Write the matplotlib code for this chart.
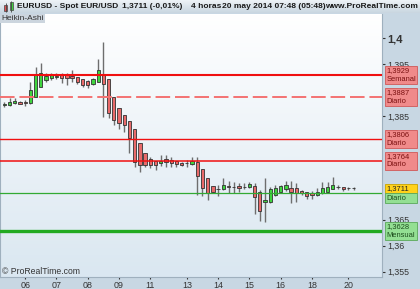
import matplotlib
matplotlib.use('Agg')
import matplotlib.pyplot as plt
import numpy as np
from matplotlib.patches import Rectangle
from matplotlib.colors import LinearSegmentedColormap
from matplotlib.transforms import blended_transform_factory

plt.rcParams['font.family'] = ['Liberation Sans', 'DejaVu Sans']

# Heikin-Ashi candles, 4h EUR/USD
opens = [1.3872, 1.3871, 1.3876, 1.3878, 1.3878, 1.3875, 1.3887, 1.3907, 1.3920, 1.3923,
         1.3926, 1.3929, 1.3929, 1.3928, 1.3925, 1.3921, 1.3918, 1.3912, 1.3916, 1.3929,
         1.3921, 1.3887, 1.3866, 1.3852, 1.3841, 1.3825, 1.3799, 1.3778, 1.3767, 1.3763,
         1.3759, 1.3767, 1.3765, 1.3763, 1.3760, 1.3759, 1.3758, 1.3762, 1.3747, 1.3730,
         1.3716, 1.3709, 1.3709, 1.3715, 1.3714, 1.3715, 1.3714, 1.3713, 1.3715, 1.3704,
         1.3685, 1.3685, 1.3698, 1.3704, 1.3709, 1.3712, 1.3711, 1.3706, 1.3703, 1.3701,
         1.3698, 1.3701, 1.3704, 1.3709, 1.3714, 1.3713, 1.3711, 1.3711]
highs = [1.3878, 1.3884, 1.3884, 1.3879, 1.3881, 1.3916, 1.3944, 1.3952, 1.3934, 1.3934,
         1.3934, 1.3933, 1.3933, 1.3939, 1.3926, 1.3922, 1.3920, 1.3924, 1.3960, 1.3993,
         1.3921, 1.3887, 1.3866, 1.3852, 1.3841, 1.3825, 1.3799, 1.3778, 1.3772, 1.3764,
         1.3774, 1.3775, 1.3772, 1.3764, 1.3761, 1.3765, 1.3772, 1.3772, 1.3747, 1.3730,
         1.3716, 1.3718, 1.3730, 1.3725, 1.3722, 1.3720, 1.3720, 1.3722, 1.3720, 1.3707,
         1.3731, 1.3714, 1.3717, 1.3718, 1.3725, 1.3725, 1.3720, 1.3707, 1.3704, 1.3706,
         1.3711, 1.3722, 1.3723, 1.3732, 1.3718, 1.3714, 1.3714, 1.3713]
lows = [1.3868, 1.3870, 1.3873, 1.3873, 1.3870, 1.3874, 1.3886, 1.3906, 1.3916, 1.3920,
        1.3922, 1.3913, 1.3910, 1.3916, 1.3911, 1.3907, 1.3905, 1.3909, 1.3915, 1.3849,
        1.3846, 1.3833, 1.3826, 1.3820, 1.3778, 1.3752, 1.3743, 1.3752, 1.3749, 1.3746,
        1.3754, 1.3752, 1.3752, 1.3752, 1.3754, 1.3752, 1.3756, 1.3698, 1.3696, 1.3688,
        1.3701, 1.3696, 1.3707, 1.3702, 1.3702, 1.3704, 1.3709, 1.3711, 1.3661, 1.3648,
        1.3645, 1.3682, 1.3695, 1.3702, 1.3706, 1.3683, 1.3684, 1.3698, 1.3691, 1.3690,
        1.3696, 1.3700, 1.3701, 1.3709, 1.3709, 1.3706, 1.3707, 1.3708]
closes = [1.3873, 1.3878, 1.3879, 1.3874, 1.3875, 1.3900, 1.3929, 1.3933, 1.3927, 1.3931,
          1.3928, 1.3924, 1.3924, 1.3923, 1.3916, 1.3910, 1.3910, 1.3921, 1.3939, 1.3911,
          1.3855, 1.3842, 1.3836, 1.3833, 1.3807, 1.3762, 1.3756, 1.3756, 1.3756, 1.3756,
          1.3763, 1.3761, 1.3759, 1.3757, 1.3756, 1.3759, 1.3763, 1.3735, 1.3711, 1.3701,
          1.3704, 1.3709, 1.3718, 1.3713, 1.3714, 1.3711, 1.3714, 1.3719, 1.3693, 1.3666,
          1.3688, 1.3709, 1.3712, 1.3715, 1.3717, 1.3704, 1.3701, 1.3702, 1.3695, 1.3697,
          1.3704, 1.3711, 1.3714, 1.3717, 1.3713, 1.3709, 1.3711, 1.3711]

day_labels = ['06', '07', '08', '09', '11', '13', '14', '15', '16', '18', '20']
day_index = [4, 10, 16, 22, 28, 35, 41, 47, 53, 59, 66]

price_ticks = [1.355, 1.36, 1.365, 1.385, 1.395, 1.4]
price_tick_labels = ['1,355', '1,36', '1,365', '1,385', '1,395', '1,4']

levels = [1.3929, 1.3887, 1.3806, 1.3764, 1.3701, 1.3628]
level_names = ['Semanal', 'Diario', 'Diario', 'Diario', 'Diario', 'Mensual']
level_kind = ['red', 'reddash', 'red', 'red', 'green', 'greenthick']
last_price = 1.3711

W, H = 420, 289
fig = plt.figure(figsize=(W / 100, H / 100), dpi=100)
fig.patch.set_facecolor('#c8d7e3')

# title bar
tb = fig.add_axes([0, 1 - 13 / H, 1, 13 / H])
tb.imshow(np.linspace(0, 1, 50).reshape(-1, 1), aspect='auto', extent=[0, 1, 0, 1],
          cmap=LinearSegmentedColormap.from_list('tb', ['#eef3f7', '#c9d6e0']))
tb.set_xlim(0, 1)
tb.set_ylim(0, 1)
tb.set_axis_off()
tb.vlines([5.75 / W, 11.25 / W], [0.05, 0.1], [0.75, 0.95], color='#444', lw=0.6)
tb.add_patch(Rectangle((4 / W, 0.15), 3.5 / W, 0.45, facecolor='#e05050', edgecolor='#444', lw=0.5))
tb.add_patch(Rectangle((9.5 / W, 0.25), 3.5 / W, 0.6, facecolor='#40d040', edgecolor='#444', lw=0.5))
ty = 1 - 7 / H
tkw = dict(fontsize=6.0, fontweight='bold', color='#1a1a1a', va='center')
fig.text(17 / W, ty, 'EURUSD - Spot EUR/USD', **tkw)
fig.text(122 / W, ty, '1,3711 (-0,01%)', **tkw)
fig.text(191 / W, ty, '4 horas', **tkw)
fig.text(222 / W, ty, '20 may 2014 07:48 (05:48)', **tkw)
fig.text(418 / W, ty, 'www.ProRealTime.com', ha='right', **tkw)

ax = fig.add_axes([0, 1 - 277 / H, 382 / W, (277 - 14) / H])
xmin, xmax = -0.83, 72.43
ymin, ymax = 1.35396, 1.40469
ax.imshow(np.linspace(0, 1, 256).reshape(-1, 1), aspect='auto', extent=[xmin, xmax, ymin, ymax],
          cmap=LinearSegmentedColormap.from_list('bg', ['#ffffff', '#dae7f1']), zorder=0)
ax.set_xlim(xmin, xmax)
ax.set_ylim(ymin, ymax)

o = np.array(opens)
c = np.array(closes)
x = np.arange(len(o))
cols = np.where(c >= o, '#3fd43f', '#e86a6a')
ax.vlines(x, lows, highs, color='#6e6e6e', lw=1.0, zorder=3)
ax.bar(x, np.abs(c - o), bottom=np.minimum(o, c), width=0.62, color=cols,
       edgecolor='#333333', linewidth=0.6, zorder=4)

line_style = {
    'red': dict(color='#f01010', lw=1.3),
    'reddash': dict(color='#f47272', lw=1.4, ls=(0, (7.5, 2.5))),
    'green': dict(color='#33aa33', lw=0.9),
    'greenthick': dict(color='#22aa22', lw=2.4),
}
widths = {1.3929: 1.5, 1.3806: 1.0, 1.3764: 1.1}
for lv, kind in zip(levels, level_kind):
    st = dict(line_style[kind])
    if lv in widths:
        st['lw'] = widths[lv]
    ax.axhline(lv, zorder=5, **st)

ax.yaxis.tick_right()
ax.set_yticks(price_ticks, labels=price_tick_labels)
ax.set_xticks(day_index, labels=day_labels)
ax.tick_params(axis='y', direction='out', length=2.2, pad=1.8, labelsize=6.3,
               colors='#333333')
ax.tick_params(axis='x', direction='out', length=1.5, pad=1.2, labelsize=6.4,
               colors='#333333')
for lab in ax.get_yticklabels():
    if lab.get_text() == '1,4':
        lab.set_fontweight('bold')
        lab.set_fontsize(8)
ax.spines['top'].set_visible(False)
for side in ['left', 'right', 'bottom']:
    ax.spines[side].set_color('#9fb0be')
    ax.spines[side].set_linewidth(0.8)

# level label boxes on the price axis
tr = blended_transform_factory(ax.transAxes, ax.transData)
px = (ymax - ymin) / (277 - 14)
bx, bw = 385 / 382, 32 / 382
tx = 386.5 / 382
fs = 5.4
box_fill = {'red': ('#f08a8a', '#d05858', '#7a1010'),
            'reddash': ('#f08a8a', '#d05858', '#7a1010'),
            'green': ('#93df93', '#5aa85a', '#1d4d1d'),
            'greenthick': ('#93df93', '#5aa85a', '#1d4d1d')}
for lv, name, kind in zip(levels, level_names, level_kind):
    fc, ec, tc = box_fill[kind]
    if kind == 'green':
        ax.add_patch(Rectangle((bx, lv), bw, 9 * px, transform=tr, clip_on=False,
                               facecolor='#ffd21a', edgecolor='#c9a400', lw=0.6, zorder=10))
        ax.add_patch(Rectangle((bx, lv - 10 * px), bw, 10 * px, transform=tr, clip_on=False,
                               facecolor=fc, edgecolor=ec, lw=0.6, zorder=10))
        ax.text(tx, lv + 4.5 * px, f'{last_price:.4f}'.replace('.', ','), transform=tr,
                fontsize=fs, color='#222222', va='center', clip_on=False, zorder=11)
        ax.text(tx, lv - 5 * px, name, transform=tr, fontsize=fs, color=tc,
                va='center', clip_on=False, zorder=11)
        continue
    ax.add_patch(Rectangle((bx, lv - 9 * px), bw, 18 * px, transform=tr, clip_on=False,
                           facecolor=fc, edgecolor=ec, lw=0.6, zorder=10))
    ax.text(tx, lv + 4.3 * px, f'{lv:.4f}'.replace('.', ','), transform=tr,
            fontsize=fs, color=tc, va='center', clip_on=False, zorder=11)
    ax.text(tx, lv - 4.3 * px, name, transform=tr, fontsize=fs, color=tc,
            va='center', clip_on=False, zorder=11)

# indicator tag and watermark
fig.text(1 / W, 1 - 18.5 / H, 'Heikin-Ashi', fontsize=6, color='#333333', va='center',
         bbox=dict(boxstyle='square,pad=0.15', facecolor='#ccd5de', edgecolor='none'))
fig.text(2 / W, 1 - 271 / H, '\u00a9 ProRealTime.com', fontsize=6.2, color='#333333',
         va='center')

fig.savefig('out.png', dpi=100, facecolor=fig.get_facecolor())
